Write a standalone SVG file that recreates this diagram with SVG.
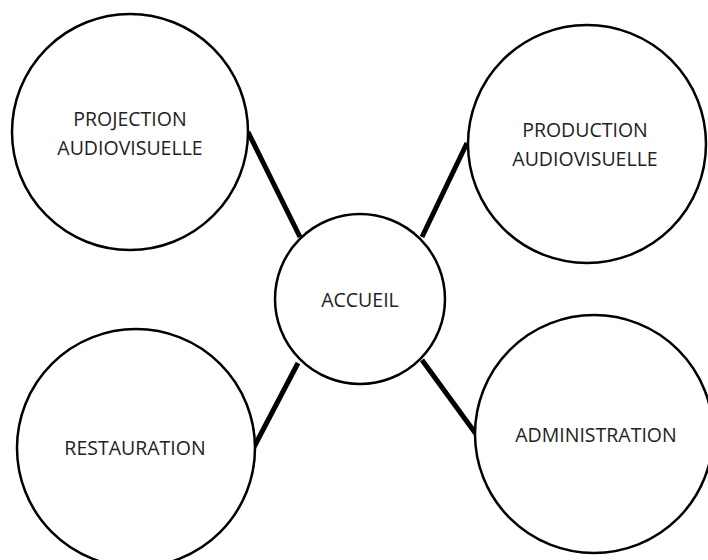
<svg xmlns="http://www.w3.org/2000/svg" width="708" height="560" viewBox="0 0 708 560">
<style>
.n{fill:#fff;stroke:#000;stroke-width:2.5}
.c{stroke:#000;stroke-width:5;stroke-linecap:butt}
text{font-family:"Open Sans","Noto Sans",sans-serif;font-size:19.5px;fill:#222;text-anchor:middle}
</style>
<rect width="708" height="560" fill="#fff"/>
<g id="connectors">
<line class="c" x1="248" y1="132" x2="300" y2="237"/>
<line class="c" x1="467" y1="143" x2="422" y2="237"/>
<line class="c" x1="254" y1="447" x2="298" y2="363"/>
<line class="c" x1="422" y1="360" x2="476" y2="434"/>
</g>
<g id="projection">
<circle class="n" cx="130" cy="132" r="118"/>
<text x="130" y="126">PROJECTION</text>
<text x="130" y="155">AUDIOVISUELLE</text>
</g>
<g id="production">
<circle class="n" cx="587" cy="144" r="119"/>
<text x="585" y="137">PRODUCTION</text>
<text x="585" y="166">AUDIOVISUELLE</text>
</g>
<g id="accueil">
<circle class="n" cx="360" cy="299" r="85"/>
<text x="360" y="307">ACCUEIL</text>
</g>
<g id="restauration">
<circle class="n" cx="136" cy="448" r="119"/>
<text x="135" y="455">RESTAURATION</text>
</g>
<g id="administration">
<circle class="n" cx="594" cy="434" r="119"/>
<text x="596" y="442">ADMINISTRATION</text>
</g>
</svg>
